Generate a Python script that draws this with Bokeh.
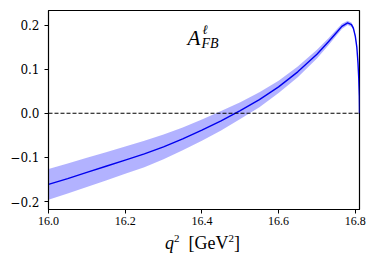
from bokeh.plotting import figure
from bokeh.models import Span, Label, FixedTicker, CustomJSTickFormatter, ColumnDataSource, Range1d, Div
from bokeh.layouts import column
from bokeh.embed import file_html
from bokeh.resources import INLINE

# q^2 values [GeV^2]
q2 = [16.00, 16.05, 16.10, 16.15, 16.20, 16.25, 16.30, 16.35, 16.40, 16.45,
      16.50, 16.55, 16.60, 16.65, 16.70, 16.73, 16.75, 16.765, 16.78, 16.79,
      16.795, 16.80, 16.804, 16.807, 16.809, 16.8105, 16.811]
# central A_FB
afb = [-0.161, -0.148, -0.134, -0.120, -0.106, -0.092, -0.076, -0.058, -0.038, -0.017,
       0.006, 0.031, 0.060, 0.094, 0.134, 0.162, 0.182, 0.197, 0.205, 0.201,
       0.193, 0.175, 0.150, 0.115, 0.080, 0.040, 0.0]
# uncertainty band
afb_hi = [-0.126, -0.114, -0.101, -0.088, -0.075, -0.062, -0.048, -0.032, -0.014, 0.005,
          0.025, 0.048, 0.074, 0.106, 0.144, 0.170, 0.189, 0.203, 0.210, 0.206,
          0.197, 0.179, 0.153, 0.118, 0.082, 0.041, 0.0]
afb_lo = [-0.196, -0.182, -0.167, -0.152, -0.137, -0.122, -0.104, -0.084, -0.062, -0.039,
          -0.013, 0.014, 0.046, 0.082, 0.124, 0.154, 0.175, 0.191, 0.200, 0.196,
          0.189, 0.171, 0.147, 0.112, 0.078, 0.039, 0.0]

x_ticks = [16.0, 16.2, 16.4, 16.6, 16.8]
y_ticks = [-0.2, -0.1, 0.0, 0.1, 0.2]

src = ColumnDataSource(dict(q2=q2, afb=afb, hi=afb_hi, lo=afb_lo))

p = figure(width=366, height=232, output_backend="svg", toolbar_location=None,
           x_range=Range1d(16.0, 16.811), y_range=Range1d(-0.218, 0.233),
           min_border_left=48, min_border_right=7, min_border_top=10, min_border_bottom=23,
           margin=0)
p.grid.visible = False
p.outline_line_color = "black"
p.outline_line_width = 1.2

p.varea(x="q2", y1="lo", y2="hi", source=src, fill_color="blue", fill_alpha=0.3)
p.line(x="q2", y="afb", source=src, line_color="#0000ee", line_width=1.4)
p.add_layout(Span(location=0, dimension="width", line_color="black",
                  line_dash="4 2", line_width=1.1))

fmt = CustomJSTickFormatter(code="return tick.toFixed(1).replace('-', '\u2212');")
for ax, ticks, font in ((p.xaxis[0], x_ticks, "Liberation Serif"), (p.yaxis[0], y_ticks, "DejaVu Serif")):
    ax.ticker = FixedTicker(ticks=ticks)
    ax.formatter = fmt
    ax.minor_tick_line_color = None
    ax.major_tick_in = 0
    ax.major_tick_out = 4
    ax.major_tick_line_color = "black"
    ax.axis_line_color = "black"
    ax.major_label_text_font = font
    ax.major_label_text_font_size = "12px"
    ax.major_label_text_font_style = "normal"
    ax.major_label_text_color = "black"
p.xaxis.major_label_standoff = 3
p.yaxis.major_label_standoff = 5

def lab(x, y, text, size, font, italic=False):
    p.add_layout(Label(x=x, y=y, x_units="screen", y_units="screen", text=text,
                       text_font=font, text_font_style="italic" if italic else "normal",
                       text_font_size=size, text_color="black",
                       text_baseline="alphabetic"))

# title A^l_FB (frame-relative screen coordinates)
lab(139, 172, "A", "21px", "Times", True)
lab(154, 180, "\u2113", "13px", "Times", True)
lab(153, 166, "FB", "14px", "Liberation Serif", True)

# x axis label  q^2 [GeV^2]
sup = '<span style="font-size:11px; position:relative; top:-7px;">2</span>'
xlabel = Div(
    text=('<div style="margin-left:165px; padding-top:2px; font-family:\'Liberation Serif\', serif; '
          'font-size:18px; line-height:18px; color:black; white-space:nowrap;">'
          '<i>q</i>' + sup + '&nbsp;&nbsp;[GeV' + sup + ']</div>'),
    width=366, height=26, margin=0)

layout = column(p, xlabel, spacing=0, margin=0)
open("out.html", "w").write(file_html(layout, INLINE))
